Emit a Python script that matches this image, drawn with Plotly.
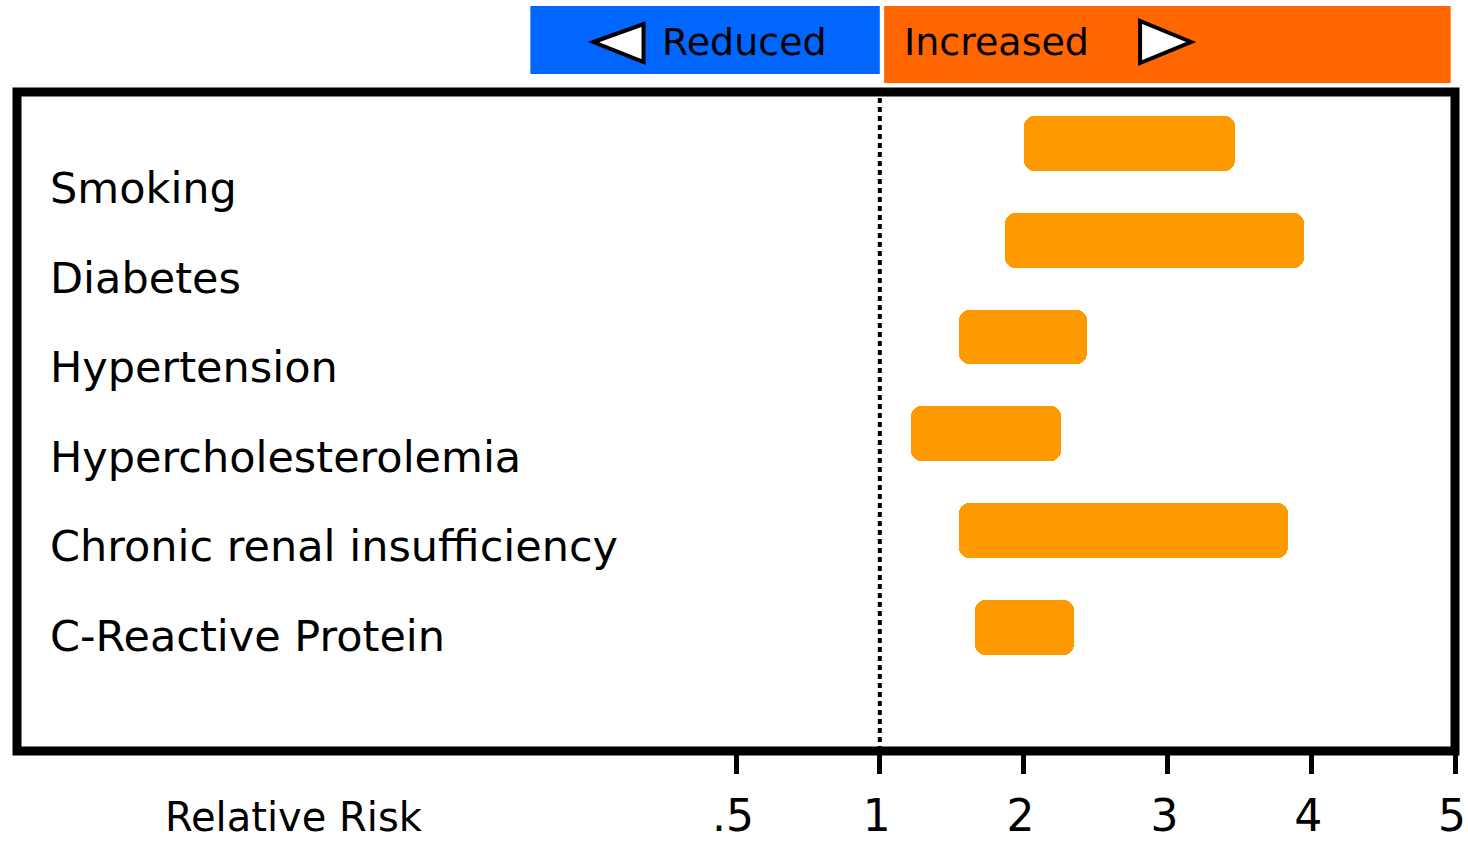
import plotly.graph_objects as go

# Risk factors and their relative-risk ranges
factors = [
    "Smoking",
    "Diabetes",
    "Hypertension",
    "Hypercholesterolemia",
    "Chronic renal insufficiency",
    "C-Reactive Protein",
]
rr_low = [2.00, 1.87, 1.55, 1.22, 1.55, 1.66]
rr_high = [3.47, 3.95, 2.44, 2.26, 3.84, 2.35]

# Axis labels: one step per label, so values >= 1 sit at their own value
tick_labels = [".5", "1", "2", "3", "4", "5"]
tick_pos = list(range(len(tick_labels)))

FONT = "DejaVu Sans, sans-serif"
BAR_COLOR = "#FF9900"
W, H = 1468, 843
ML, MR, MT, MB = 17, 13, 92, 92
PLOT_H = H - MT - MB

rows = list(range(len(factors)))
widths = [h - l for l, h in zip(rr_low, rr_high)]

fig = go.Figure()
fig.add_trace(go.Bar(
    y=rows,
    x=widths,
    base=rr_low,
    orientation="h",
    width=0.568,
    marker=dict(color=BAR_COLOR, line=dict(width=0), cornerradius=10),
    hoverinfo="skip",
    showlegend=False,
))


def py_to_paper(py):
    return (H - MB - py) / PLOT_H


shapes = [
    # plot frame
    dict(type="rect", xref="paper", yref="paper", x0=0, x1=1, y0=0, y1=1,
         line=dict(color="black", width=9), fillcolor="rgba(0,0,0,0)", layer="above"),
    # null-effect reference line at RR = 1
    dict(type="line", xref="x", yref="paper", x0=1, x1=1, y0=0, y1=1,
         line=dict(color="black", width=4, dash="5px,4px")),
    # header: increased / reduced
    dict(type="rect", xref="x", yref="paper", x0=1.03, x1=4.97,
         y0=py_to_paper(83), y1=py_to_paper(6),
         fillcolor="#FF6600", line=dict(width=0), layer="above"),
    dict(type="rect", xref="x", yref="paper", x0=-1.43, x1=1.0,
         y0=py_to_paper(74), y1=py_to_paper(6),
         fillcolor="#0066FF", line=dict(width=0), layer="above"),
    # arrow heads
    dict(type="path", xref="x", yref="paper",
         path=f"M -0.991,{py_to_paper(42)} L -0.643,{py_to_paper(24)} L -0.643,{py_to_paper(62)} Z",
         fillcolor="white", line=dict(color="black", width=4), layer="above"),
    dict(type="path", xref="x", yref="paper",
         path=f"M 3.165,{py_to_paper(42)} L 2.810,{py_to_paper(21)} L 2.810,{py_to_paper(63)} Z",
         fillcolor="white", line=dict(color="black", width=4), layer="above"),
]

annotations = []
# row labels, evenly spaced inside the frame
LABEL_Y0, LABEL_STEP = 0.46, 0.926
for i, name in enumerate(factors):
    annotations.append(dict(
        text=name, xref="paper", yref="y", x=(48 - ML) / (W - ML - MR),
        y=LABEL_Y0 + i * LABEL_STEP, xanchor="left", yanchor="middle",
        showarrow=False, font=dict(family=FONT, size=43, color="black"),
    ))

annotations += [
    dict(text="Relative Risk", xref="paper", yref="paper",
         x=(294 - ML) / (W - ML - MR), y=py_to_paper(817),
         xanchor="center", yanchor="middle", showarrow=False,
         font=dict(family=FONT, size=40, color="black")),
    dict(text="Reduced", xref="x", yref="paper", x=0.058, y=py_to_paper(42),
         xanchor="center", yanchor="middle", showarrow=False,
         font=dict(family=FONT, size=38, color="black")),
    dict(text="Increased", xref="x", yref="paper", x=1.81, y=py_to_paper(42),
         xanchor="center", yanchor="middle", showarrow=False,
         font=dict(family=FONT, size=38, color="black")),
]

fig.update_layout(
    width=W, height=H,
    margin=dict(l=ML, r=MR, t=MT, b=MB, autoexpand=False),
    paper_bgcolor="white", plot_bgcolor="white",
    shapes=shapes, annotations=annotations,
    xaxis=dict(
        range=[-5, 5], tickvals=tick_pos, ticktext=tick_labels,
        ticks="outside", ticklen=22, tickwidth=5, tickcolor="black",
        ticklabelstandoff=4, ticklabelshift=-3, ticklabeloverflow="allow",
        automargin=False,
        showgrid=False, zeroline=False, showline=False,
        tickfont=dict(family=FONT, size=44, color="black"),
    ),
    yaxis=dict(
        range=[6.277, -0.531], showticklabels=False, showgrid=False,
        zeroline=False, showline=False, ticks="", automargin=False,
    ),
    bargap=0,
)

fig.write_html("out.html")
